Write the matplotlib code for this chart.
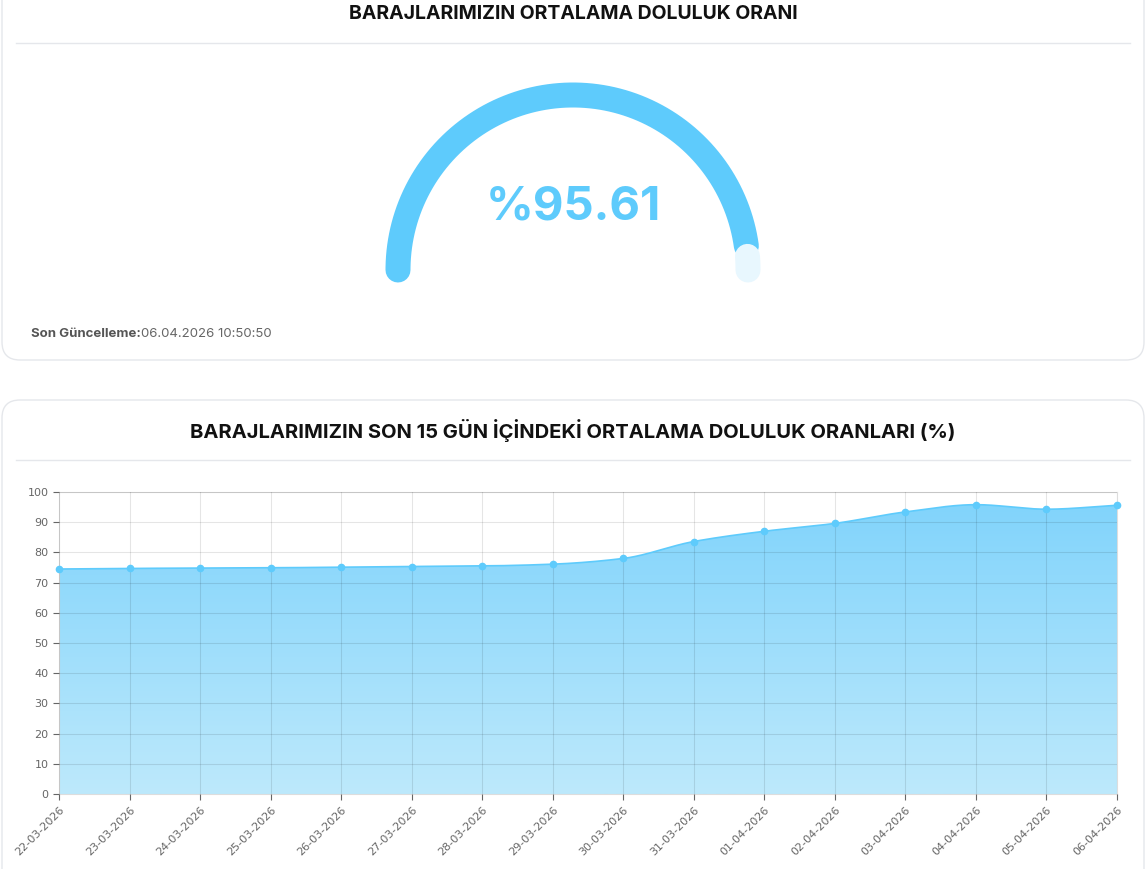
import matplotlib
matplotlib.use("Agg")
import matplotlib.pyplot as plt
import numpy as np
from matplotlib.patches import FancyBboxPatch, Arc
from matplotlib.path import Path
from matplotlib.patches import PathPatch

dates = ["22-03-2026","23-03-2026","24-03-2026","25-03-2026","26-03-2026","27-03-2026",
         "28-03-2026","29-03-2026","30-03-2026","31-03-2026","01-04-2026","02-04-2026",
         "03-04-2026","04-04-2026","05-04-2026","06-04-2026"]
values = [74.5,74.7,74.8,74.9,75.1,75.3,75.5,76.1,78.0,83.6,87.0,89.6,93.4,95.8,94.3,95.61]
current = 95.61

W, H = 1146, 869
fig = plt.figure(figsize=(W/100, H/100), dpi=100)
bg = fig.add_axes([0, 0, 1, 1])
bg.set_xlim(0, W); bg.set_ylim(H, 0); bg.axis("off")
font = "Inter"

# cards
for (y0, y1) in [(-20, 360), (400, 900)]:
    bg.add_patch(FancyBboxPatch((2, y0), W-4, y1-y0, boxstyle="round,pad=0,rounding_size=18",
                                fc="white", ec="#e5e7eb", lw=1))
bg.plot([16, 1130], [43, 43], color="#e5e7eb", lw=1)
bg.plot([16, 1130], [460, 460], color="#e5e7eb", lw=1)
bg.text(573, 14, "BARAJLARIMIZIN ORTALAMA DOLULUK ORANI", ha="center", va="center",
        fontsize=14, fontweight="bold", family=font, color="#111")
bg.text(573, 430, "BARAJLARIMIZIN SON 15 GÜN İÇİNDEKİ ORTALAMA DOLULUK ORANLARI (%)", ha="center",
        va="center", fontsize=14.5, fontweight="bold", family=font, color="#111")

# gauge
cx, cy, r = 573, 270, 175
lw = 25 * 0.72
end = 180 * (1 - current / 100)
t = np.linspace(np.radians(end), np.radians(180), 200)
bg.plot(cx + r*np.cos(t), cy - r*np.sin(t), color="#5ecbfc", lw=lw, solid_capstyle="round")
t2 = np.linspace(0, np.radians(end) - 0.06, 20)
bg.plot(cx + r*np.cos(t2), cy - r*np.sin(t2), color="#e8f7fe", lw=lw, solid_capstyle="round")
bg.text(573, 208, f"%{current:.2f}", ha="center", va="center", fontsize=34, fontweight="bold",
        family=font, color="#5ecbfc")
bg.text(31, 334, "Son Güncelleme:", ha="left", va="center", fontsize=9.5, fontweight="bold",
        family=font, color="#555")
bg.text(141, 334, "06.04.2026 10:50:50", ha="left", va="center", fontsize=9.5,
        family=font, color="#666")

# line chart
ax = fig.add_axes([59/W, 1-794/H, (1117-59)/W, (794-492)/H])
x = np.arange(len(values))
ax.set_xlim(0, len(values)-1); ax.set_ylim(0, 100)
# smooth curve
xs = np.linspace(0, len(values)-1, 600)
from matplotlib import cbook
def mono(xq):
    # monotone cubic (PCHIP-like) interpolation
    y = np.array(values); h = 1.0
    d = np.diff(y)
    m = np.zeros_like(y)
    for i in range(1, len(y)-1):
        if d[i-1]*d[i] > 0:
            m[i] = 2/(1/d[i-1] + 1/d[i])
    m[0] = d[0]; m[-1] = d[-1]
    i = np.clip(np.floor(xq).astype(int), 0, len(y)-2)
    tt = xq - i
    h00 = 2*tt**3-3*tt**2+1; h10 = tt**3-2*tt**2+tt; h01 = -2*tt**3+3*tt**2; h11 = tt**3-tt**2
    return h00*y[i]+h10*m[i]+h01*y[i+1]+h11*m[i+1]
ys = mono(xs)
grad = np.linspace(0, 1, 256).reshape(-1, 1)
from matplotlib.colors import LinearSegmentedColormap
cmap = LinearSegmentedColormap.from_list("g", ["#bde9fc", "#7fd3fb"])
im = ax.imshow(grad, extent=[0, len(values)-1, 0, 100], origin="lower", cmap=cmap,
               aspect="auto", zorder=1)
verts = np.vstack([np.column_stack([xs, ys]), [[len(values)-1, 0], [0, 0]]])
clip = PathPatch(Path(verts), transform=ax.transData, fc="none", ec="none")
ax.add_patch(clip)
im.set_clip_path(clip)
ax.plot(xs, ys, color="#5ecbfc", lw=1.2, zorder=3)
ax.plot(x, values, "o", color="#5ecbfc", ms=4.5, zorder=4, clip_on=False)
ax.set_yticks(range(0, 101, 10))
ax.set_xticks(x)
ax.set_xticklabels(dates, rotation=45, ha="right", rotation_mode="anchor")
ax.grid(True, color="#000", alpha=0.1, lw=0.8, zorder=2)
ax.set_axisbelow(False)
for s in ax.spines.values():
    s.set_color("#dddddd")
ax.tick_params(colors="#666", labelsize=8, length=4, width=0.8)
for lab in ax.get_xticklabels() + ax.get_yticklabels():
    lab.set_color("#666")
fig.savefig("out.png", dpi=100)
